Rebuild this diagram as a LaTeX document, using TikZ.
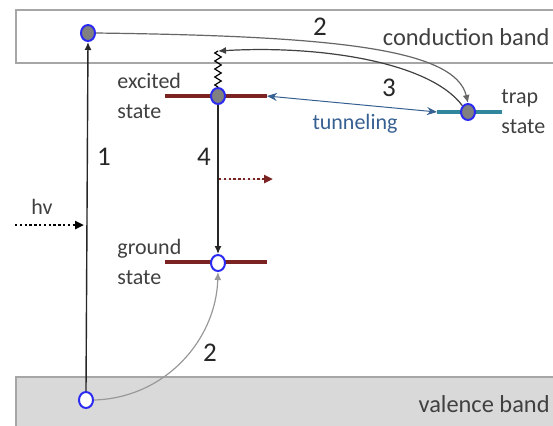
\documentclass[tikz,border=0pt]{standalone}
\usepackage{fontspec}
\setmainfont{Carlito}
\usepackage{xcolor}
\usetikzlibrary{arrows.meta,positioning,shapes.geometric,decorations.pathmorphing}
\definecolor{levelred}{HTML}{7B2323}
\definecolor{trapteal}{HTML}{31859C}
\definecolor{tunnelblue}{HTML}{376092}
\definecolor{dotblue}{HTML}{2A2AF2}
\definecolor{bandgray}{HTML}{D9D9D9}
\definecolor{textgray}{HTML}{404040}

\begin{document}
\begin{tikzpicture}[
    x=0.5pt, y=-0.5pt,
    font=\fontsize{11}{15}\selectfont,
    electron/.style={ellipse, draw=dotblue, line width=1pt, fill=black!50, minimum width=7pt, minimum height=8pt, inner sep=0pt},
    hole/.style={electron, fill=white},
    level/.style={line width=2pt, draw=levelred},
    band/.style={draw=black!35, line width=0.6pt},
    lbl/.style={text=textgray, align=left, inner sep=0pt},
    num/.style={text=black!85, font=\fontsize{13.5}{15}\selectfont, inner sep=0pt},
    arrow/.style={-{Latex[length=4pt, width=3.5pt]}, line width=0.7pt, draw=black!85},
    trans/.style={-{Latex[length=4pt, width=3.5pt]}, line width=0.6pt},
    dotarrow/.style={-{Triangle[length=4.5pt, width=4pt]}, line width=1.3pt, dash pattern=on 1.2pt off 1.2pt}
]
\useasboundingbox (0,0) rectangle (553,425);
% bands
\draw[band, fill=white] (16,10) rectangle (560,63);
\draw[band, fill=bandgray] (16,377) rectangle (560,432);
\node[text=textgray, font=\fontsize{12.2}{14}\selectfont, anchor=east, inner sep=0pt] (cblabel) at (550,37) {conduction band};
\node[text=textgray, font=\fontsize{12.2}{14}\selectfont, anchor=east, inner sep=0pt] (vblabel) at (550,404) {valence band};
% levels
\draw[level] (165,96) coordinate (exL) -- (267,96) coordinate (exR);
\draw[level] (165,262) coordinate (gsL) -- (267,262) coordinate (gsR);
\draw[line width=2pt, draw=trapteal] (437,112) coordinate (trL) -- (502,112) coordinate (trR);
% carriers
\node[electron] (cbE) at (88,33) {};
\node[hole] (vbH) at (86,400) {};
\node[electron] (exE) at (218,96) {};
\node[hole] (gsH) at (218,263) {};
\node[electron] (trE) at (468,112) {};
\coordinate (relax) at (218,51);
\coordinate (emit) at (219,179);
\coordinate (emitEnd) at (273,179);
\coordinate (hvStart) at (15,225);
\coordinate (hvEnd) at (84,225);
% labels
\node[lbl, anchor=west] (exlabel) at (117,96) {excited\\state};
\node[lbl, anchor=west] (gslabel) at (117,262) {ground\\state};
\node[lbl, anchor=west] (trlabel) at (501,112) {trap\\state};
\node[lbl] (hvlabel) at (42,207) {hv};
\node[lbl, text=tunnelblue] (tunlabel) at (355,124) {tunneling};
\node[num] (n1) at (104,157) {1};
\node[num] (n4) at (204,157) {4};
\node[num] (n2a) at (320,27) {2};
\node[num] (n3) at (389,88) {3};
\node[num] (n2b) at (210,353) {2};
% transitions
\draw[arrow] (vbH.north) -- (cbE.south);
\draw[arrow] (exE.south) -- (gsH.north);
\draw[trans, draw=black!60] (cbE.east) .. controls (330,36) and (455,48) .. (trE.north);
\draw[trans, draw=black!75] (trE.north west) .. controls (430,62) and (320,45) .. (relax);
\draw[line width=0.6pt, decorate, decoration={zigzag, segment length=4pt, amplitude=1.6pt}] (exE.north) -- (relax);
\draw[trans, draw=black!40] (vbH.east) .. controls (165,398) and (216,340) .. (gsH.south);
\draw[{Stealth[length=5pt, width=4pt]}-{Stealth[length=5pt, width=4pt]}, draw=tunnelblue, line width=0.5pt] (exR) -- (trL);
\draw[dotarrow] (hvStart) -- (hvEnd);
\draw[dotarrow, draw=levelred, fill=levelred] (emit) -- (emitEnd);
\end{tikzpicture}
\end{document}
